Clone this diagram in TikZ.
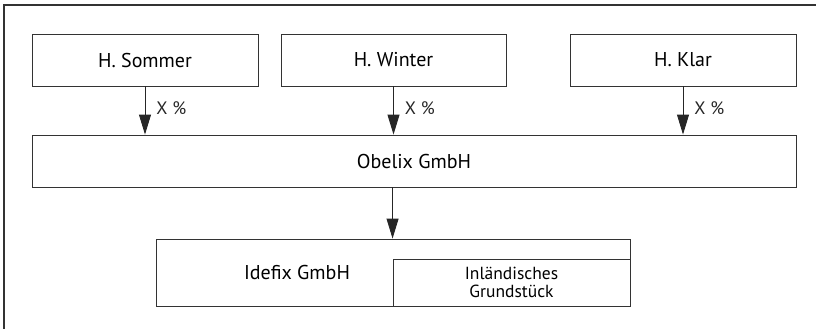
\documentclass[tikz,border=0pt]{standalone}
\usepackage{fontspec}
\setmainfont{PT Sans}
\usetikzlibrary{arrows.meta,math}

\tikzset{
  box/.style={draw=black!80, line width=0.9pt, minimum height=52pt, inner sep=0pt,
    font=\fontsize{20}{24}\selectfont},
  share/.style={-{Triangle[length=20pt,width=12pt]}, line width=0.9pt, black!85},
  pct/.style={font=\fontsize{18}{21}\selectfont, right, inner sep=0pt}
}

\begin{document}
\begin{tikzpicture}[x=1pt, y=-1pt]
  \tikzmath{%
    \rowa = 34; \rowb = 135; \rowc = 239;
  }
  \useasboundingbox (0,0) rectangle (816,329);

  % frame
  \draw[line width=1.3pt, black!80] (4,329) -- (4,5) -- (816,5);

  \node[box, minimum width=226pt] (sommer) at (145,\rowa+26) {H. Sommer};
  \node[box, minimum width=225pt] (winter) at (393.5,\rowa+26) {H. Winter};
  \node[box, minimum width=226pt] (klar) at (683,\rowa+26) {H. Klar};

  \node[box, minimum width=764pt] (obelix) at (414,\rowb+26) {Obelix GmbH};

  \node[box, minimum width=474pt, minimum height=67pt] (idefix) at (393,\rowc+33.5) {};
  \node[box, minimum width=237pt, minimum height=47pt, font=\fontsize{17.5}{18}\selectfont,
    align=center] (grund) at (511.5,282.5) {Inländisches\\Grundstück};
  \node[font=\fontsize{20}{24}\selectfont] (idefixname) at (297,272) {Idefix GmbH};

  \draw[share] (sommer.south) -- (sommer.south |- obelix.north)
    node[pct, pos=0.45, xshift=11pt] {X \%};
  \draw[share] (winter.south) -- (winter.south |- obelix.north)
    node[pct, pos=0.45, xshift=11pt] {X \%};
  \draw[share] (klar.south) -- (klar.south |- obelix.north)
    node[pct, pos=0.45, xshift=11pt] {X \%};
  \draw[share] (obelix.south -| grund.west) -- (idefix.north -| grund.west);
\end{tikzpicture}
\end{document}
